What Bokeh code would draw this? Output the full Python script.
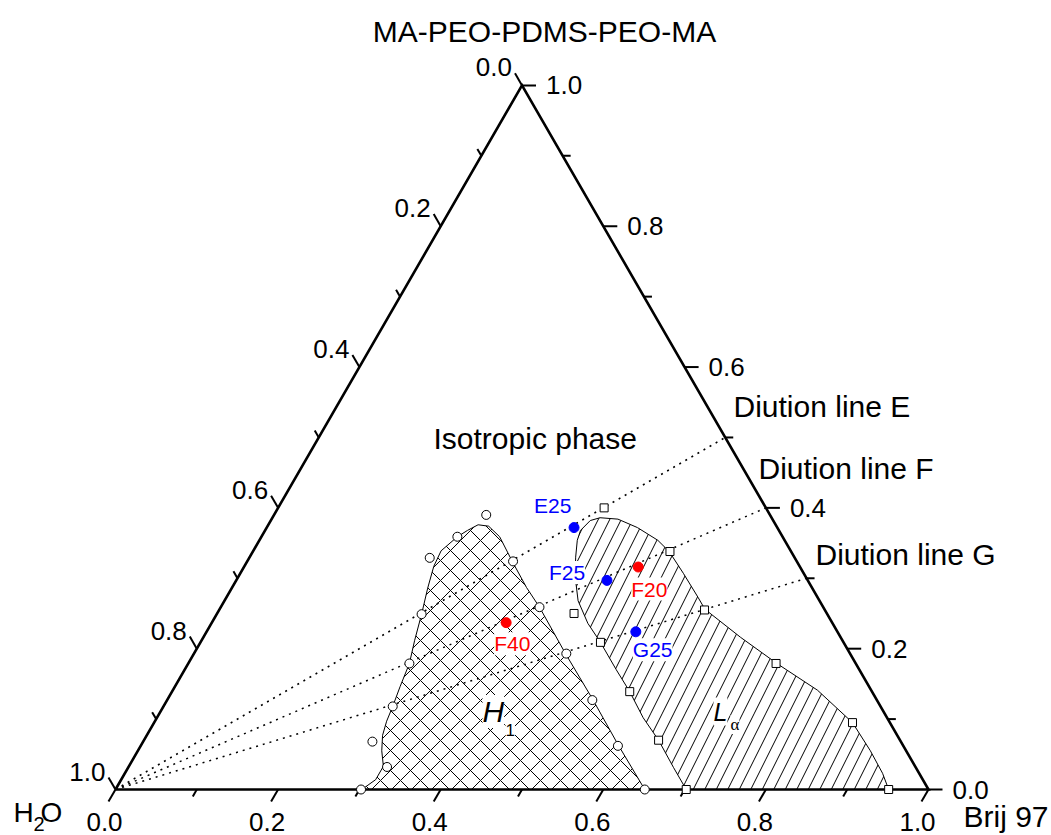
import math
from bokeh.plotting import figure
from bokeh.models import Range1d, ColumnDataSource
from bokeh.core.properties import value
from bokeh.embed import file_html
from bokeh.resources import INLINE

FONT = "Liberation Sans"

# ---------------- data ----------------
tick_values = [0.0, 0.1, 0.2, 0.3, 0.4, 0.5, 0.6, 0.7, 0.8, 0.9, 1.0]
major_values = [0.0, 0.2, 0.4, 0.6, 0.8, 1.0]
major_text = ["0.0", "0.2", "0.4", "0.6", "0.8", "1.0"]

# H1 phase boundary points (open circles): Brij 97 fraction, MA-PEO-PDMS-PEO-MA fraction
h1_brij = [0.261, 0.241, 0.222, 0.327, 0.392, 0.252, 0.458, 0.272, 0.282, 0.523, 0.282, 0.587, 0.318, 0.302, 0.651]
h1_ma   = [0.390, 0.359, 0.329, 0.324, 0.259, 0.249, 0.193, 0.179, 0.118, 0.127, 0.068, 0.062, 0.032, 0.000, 0.000]

# L-alpha phase boundary points (open squares)
la_brij = [0.401, 0.439, 0.513, 0.597, 0.492, 0.563, 0.633, 0.702, 0.723, 0.859, 0.951]
la_ma   = [0.400, 0.250, 0.338, 0.255, 0.209, 0.139, 0.070, 0.000, 0.179, 0.095, 0.000]

# smoothed phase boundaries (compositions)
h1_edge_brij = [0.303, 0.313, 0.313, 0.300, 0.290, 0.285, 0.282, 0.277, 0.272, 0.262, 0.252, 0.241,
                0.233, 0.231, 0.241, 0.249, 0.258, 0.272, 0.293, 0.326, 0.362, 0.392, 0.457, 0.523,
                0.587, 0.651]
h1_edge_ma   = [0.000, 0.014, 0.033, 0.055, 0.077, 0.097, 0.118, 0.146, 0.179, 0.212, 0.249, 0.286,
                0.317, 0.339, 0.359, 0.368, 0.376, 0.374, 0.359, 0.324, 0.287, 0.259, 0.193, 0.128,
                0.063, 0.000]

la_edge_brij = [0.702, 0.671, 0.633, 0.598, 0.563, 0.531, 0.492, 0.463, 0.435, 0.415, 0.401, 0.391,
                0.388, 0.393, 0.403, 0.426, 0.456, 0.490, 0.512, 0.545, 0.580, 0.597, 0.661, 0.724,
                0.793, 0.859, 0.901, 0.932, 0.951]
la_edge_ma   = [0.000, 0.031, 0.070, 0.102, 0.139, 0.170, 0.209, 0.236, 0.268, 0.301, 0.330, 0.354,
                0.368, 0.382, 0.386, 0.384, 0.372, 0.354, 0.338, 0.307, 0.273, 0.256, 0.216, 0.179,
                0.141, 0.095, 0.055, 0.023, 0.000]

# dilution lines: MA share of the surfactant mixture
dilution_names = ["Diution line E", "Diution line F", "Diution line G"]
dilution_ma_share = [0.5, 0.4, 0.3]

# samples
sample_names = ["E25", "F25", "G25", "F20", "F40"]
sample_brij = [0.378, 0.456, 0.528, 0.485, 0.362]
sample_ma = [0.372, 0.297, 0.224, 0.316, 0.237]
sample_colors = ["#0000ff", "#0000ff", "#0000ff", "#ff0000", "#ff0000"]

# ---------------- geometry ----------------
S3 = math.sqrt(3) / 2
PX = 1 / 813.0          # data units per screen pixel
OX, OY = 115, 789       # page pixel of H2O vertex
W, H = 1051, 835


def tern(b, m):
    return b + m / 2.0, m * S3


def tern_list(bs, ms):
    xs, ys = [], []
    for b, m in zip(bs, ms):
        x, y = tern(b, m)
        xs.append(x)
        ys.append(y)
    return xs, ys


def page(xp, yp):
    return (xp - OX) * PX, (OY - yp) * PX


p = figure(width=W, height=H,
           x_range=Range1d((0 - OX) * PX, (W - OX) * PX),
           y_range=Range1d((OY - H) * PX, (OY - 0) * PX),
           output_backend="svg", toolbar_location=None,
           x_axis_location=None, y_axis_location=None,
           min_border=0, outline_line_color=None)
p.xgrid.visible = False
p.ygrid.visible = False
p.background_fill_color = "white"
p.border_fill_color = "white"

# phase regions
hx, hy = tern_list(h1_edge_brij, h1_edge_ma)
p.patch(hx, hy, fill_color=None, line_color="black", line_width=1,
        hatch_pattern="x", hatch_scale=20, hatch_weight=1, hatch_color="black")
lx, ly = tern_list(la_edge_brij, la_edge_ma)
p.patch(lx, ly, fill_color=None, line_color="black", line_width=1,
        hatch_pattern="/", hatch_scale=23, hatch_weight=1, hatch_color="black")

# dilution lines
for r in dilution_ma_share:
    x0, y0 = tern(0, 0)
    x1, y1 = tern(1 - r, r)
    p.line([x0, x1], [y0, y1], line_color="black", line_width=1.5, line_dash="2 5")

# triangle
corners_b = [0, 1, 0, 0]
corners_m = [0, 0, 1, 0]
tx, ty = tern_list(corners_b, corners_m)
p.line(tx, ty, line_color="black", line_width=2.6, line_join="miter")

# ticks
txs, tys = [], []
for t in tick_values:
    major = int(round(t * 10)) % 2 == 0
    L = (14 if major else 8) * PX
    bx, by = tern(t, 0)
    txs.append([bx, bx - 0.5 * L]); tys.append([by, by - S3 * L])
    rx, ry = tern(1 - t, t)
    txs.append([rx, rx + L]); tys.append([ry, ry])
    lx0, ly0 = tern(0, 1 - t)
    txs.append([lx0, lx0 - 0.5 * L]); tys.append([ly0, ly0 + S3 * L])
p.multi_line(txs, tys, line_color="black", line_width=2)

# tick labels
bot = {"x": [], "y": [], "t": []}
rgt = {"x": [], "y": [], "t": []}
lft = {"x": [], "y": [], "t": []}
for t, s in zip(major_values, major_text):
    bx, by = tern(t, 0)
    bot["x"].append(bx - 11 * PX); bot["y"].append(by - 32 * PX); bot["t"].append(s)
    rx, ry = tern(1 - t, t)
    rgt["x"].append(rx + 24 * PX); rgt["y"].append(ry); rgt["t"].append(s)
    lx0, ly0 = tern(0, 1 - t)
    lft["x"].append(lx0 - 10 * PX); lft["y"].append(ly0 + 18 * PX); lft["t"].append(s)

for src, align in ((bot, "center"), (rgt, "left"), (lft, "right")):
    p.text(x="x", y="y", text="t", source=ColumnDataSource(src),
           text_font=value(FONT), text_font_size="26px", text_color="black",
           text_align=align, text_baseline="middle", text_line_height=1.0)

# data points
cx, cy = tern_list(h1_brij, h1_ma)
p.scatter(cx, cy, marker="circle", size=9, fill_color="white", line_color="black", line_width=1)
sx, sy = tern_list(la_brij, la_ma)
p.scatter(sx, sy, marker="square", size=8, fill_color="white", line_color="black", line_width=1)
px_, py_ = tern_list(sample_brij, sample_ma)
p.scatter(px_, py_, marker="circle", size=10, fill_color=sample_colors, line_color=sample_colors)


def put(x, y, txt, size, color="black", style="normal", font=FONT, bg=None, align="left"):
    kw = {}
    if bg is not None:
        kw["background_fill_color"] = bg
    p.text(x=[x], y=[y], text=[txt], text_font=value(font), text_font_size=size,
           text_font_style=style, text_color=color, text_align=align,
           text_baseline="middle", text_line_height=1.0, **kw)


# sample labels (offsets in screen px: left edge, text centre downwards)
sample_offsets = {"E25": (-40, -22), "F25": (-58, -8), "G25": (-3, 18), "F20": (-7, 22), "F40": (-12, 21)}
for name, x, y, c in zip(sample_names, px_, py_, sample_colors):
    dx, dy = sample_offsets[name]
    bg = None if name == "E25" else "white"
    put(x + dx * PX, y - dy * PX, name, "21px", color=c, bg=bg)


def add_text(xp, yp, txt, size="30px", style="normal", font=FONT, bg=None, align="left"):
    x, y = page(xp, yp)
    put(x, y, txt, size, style=style, font=font, bg=bg, align=align)


add_text(544, 31, "MA-PEO-PDMS-PEO-MA", align="center")
add_text(13, 812, "H", size="28px")
add_text(33, 823, "2", size="20px")
add_text(40, 812, "O", size="28px")
add_text(963, 816, "Brij 97")
add_text(433, 438, "Isotropic phase")
add_text(733, 406, dilution_names[0])
add_text(758, 468, dilution_names[1])
add_text(815, 554, dilution_names[2])
add_text(482, 711, "H", size="30px", style="italic", bg="white")
add_text(505, 729, "1", size="17px", bg="white")
add_text(713, 711, "L", size="25px", style="italic", bg="white")
add_text(730, 724, "α", size="17px", font="Liberation Serif", bg="white")

open("out.html", "w").write(file_html(p, INLINE))
